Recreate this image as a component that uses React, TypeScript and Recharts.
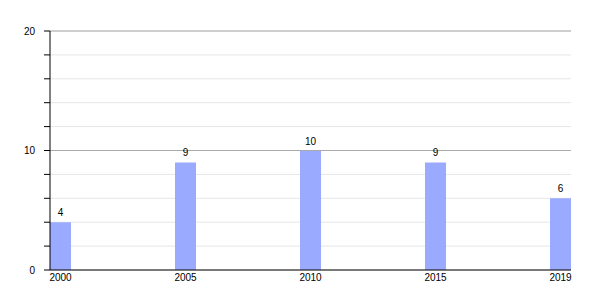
import React from 'react';
import { BarChart, Bar, XAxis, YAxis, CartesianGrid, ReferenceLine, LabelList } from 'recharts';

const years = ['2000', '2005', '2010', '2015', '2019'];
const values = [4, 9, 10, 9, 6];
const yTicks = [0, 2, 4, 6, 8, 10, 12, 14, 16, 18, 20];
const majorTicks = [10, 20];

const data = years.map((y, i) => ({ idx: i, year: y, value: values[i] }));

const font = '"Liberation Sans", Arial, sans-serif';

export default function App() {
  return (
    <div style={{ position: 'absolute', left: 0, top: 0, width: 600, height: 300, background: '#fff' }}>
      <BarChart
        width={600}
        height={300}
        data={data}
        margin={{ top: 31, right: 29, bottom: 10, left: 0 }}
        style={{ fontFamily: font }}
      >
        <CartesianGrid vertical={false} stroke="#e6e6e6" horizontalValues={yTicks} />
        {majorTicks.map((t) => (
          <ReferenceLine key={t} y={t} stroke="#aaaaaa" strokeWidth={1} />
        ))}
        <XAxis
          dataKey="idx"
          type="number"
          domain={[-0.084, 4.084]}
          allowDataOverflow
          ticks={[0, 1, 2, 3, 4]}
          tickFormatter={(v: number) => years[v] ?? ''}
          tickLine={false}
          axisLine={{ stroke: '#000' }}
          tick={{ fill: '#000', fontSize: 10, fontFamily: font }}
          tickSize={0}
          tickMargin={4}
          height={20}
          interval={0}
        />
        <YAxis
          type="number"
          domain={[0, 20]}
          ticks={yTicks}
          interval={0}
          tickFormatter={(v: number) => (v % 10 === 0 ? String(v) : '')}
          axisLine={{ stroke: '#000' }}
          tickLine={{ stroke: '#000' }}
          tickSize={6}
          tickMargin={9}
          tick={{ fill: '#000', fontSize: 10, fontFamily: font }}
          width={50}
        />
        <Bar dataKey="value" fill="#99aaff" barSize={21} isAnimationActive={false}>
          <LabelList dataKey="value" position="top" offset={6} fill="#000" fontSize={10} fontFamily={font} />
        </Bar>
      </BarChart>
    </div>
  );
}
